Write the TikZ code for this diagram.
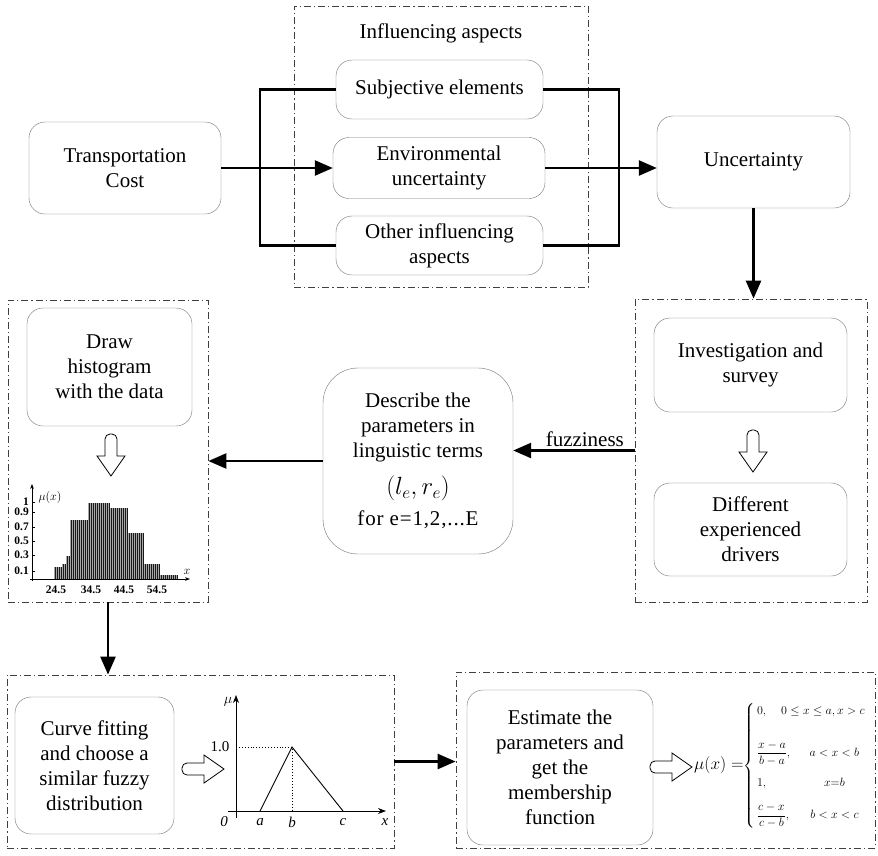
\documentclass[tikz,border=0pt]{standalone}
\usepackage{amsmath,amssymb}
\usepackage{fontspec}
\setmainfont{Liberation Serif}
\usetikzlibrary{positioning,arrows.meta,calc}

\tikzset{
	box/.style={draw=black!55, rounded corners=16pt, align=center, inner sep=2pt},
	group/.style={draw=black!75, line width=0.8pt, dash pattern=on 7pt off 3pt on 1.2pt off 3pt},
	link/.style={line width=2.5pt, -{Triangle[length=18pt,width=15pt]}},
	bus/.style={line width=2.5pt},
	axis/.style={line width=0.8pt, -{Stealth[length=8pt]}},
	hollowarrow/.pic={
		\draw[line width=0.8pt, fill=white] (-6,1) [rounded corners=5pt] -- (-6,-21) -- (6,-21) [sharp corners] -- (6,1) -- (14,1) -- (0,21) -- (-14,1) -- cycle;
	}
}

\begin{document}
\begin{tikzpicture}[x=1pt,y=-1pt, font=\fontsize{21}{25}\selectfont]
			\useasboundingbox (0,0) rectangle (878,855);
			% dash-dotted groups
			\node[group, minimum width=294pt, minimum height=281pt] (aspects) at (441,146.5) {};
			\node[group, minimum width=200pt, minimum height=302pt] (lgroup) at (108,451) {};
			\node[group, minimum width=232pt, minimum height=303pt] (rgroup) at (751,450.5) {};
			\node[group, minimum width=387pt, minimum height=173pt] (blgroup) at (200.5,761.5) {};
			\node[group, minimum width=419pt, minimum height=176pt] (brgroup) at (665.5,760) {};
			\node (aspectstitle) at (441,33) {Influencing aspects};
			
			% top row
			\node[box, minimum width=192pt, minimum height=92pt] (cost) at (125,168) {Transportation\\Cost};
			\node[box, minimum width=207pt, minimum height=59pt] (subj) at (439.5,89.5) {Subjective elements};
			\node[box, minimum width=212pt, minimum height=61pt] (env) at (439,168) {Environmental\\uncertainty};
			\node[box, minimum width=207pt, minimum height=59pt] (other) at (439.5,245.5) {Other influencing\\aspects};
			\node[box, minimum width=193pt, minimum height=92pt] (unc) at (753.5,162) {Uncertainty};
			\coordinate (lbus) at (260,0);
			\coordinate (rbus) at (619,0);
			
			\begin{scope}[bus]
			\draw (subj.west) -- (subj.west -| lbus) -- (other.west -| lbus) -- (other.west);
			\draw (subj.east) -- (subj.east -| rbus) -- (other.east -| rbus) -- (other.east);
			\end{scope}
			\draw[link] (cost.east) -- (env.west);
			\draw[link] (env.east) -- (env.east -| unc.west);
			\draw[link] (unc.south) -- (unc.south |- rgroup.north);
			
			% middle row
			\node[box, minimum width=193pt, minimum height=94pt] (inv) at (750.5,365) {Investigation and\\survey};
			\node[box, minimum width=193pt, minimum height=93pt] (drv) at (750.5,529.5) {Different\\experienced\\drivers};
			\pic at (753,451) {hollowarrow};
			\node[box, rounded corners=35pt, minimum width=190pt, minimum height=186pt] (desc) at (418,461)
				{Describe the\\parameters in\\linguistic terms\\[12pt] {\fontsize{25}{25}\selectfont$(l_e,r_e)$}\\[6pt] {\addfontfeatures{LetterSpace=4}for e=1,2,...E}};
			\draw[link] (rgroup.west) -- node[above, pos=0.41, inner sep=3pt] {fuzziness} (rgroup.west -| desc.east);
			\draw[link] (desc.west) -- (desc.west -| lgroup.east);
			\node[box, minimum width=165pt, minimum height=118pt] (hist) at (109.5,367) {Draw\\histogram\\with the data};
			\pic at (111,455) {hollowarrow};
			
			% histogram
			\foreach \a/\b/\h in {55/61/0.15, 63/65/0.2, 67/69/0.3, 71/87/0.77, 89/109/0.99, 111/127/0.92, 129/143/0.6, 145/159/0.2, 161/177/0.05}{
				\fill[black!35] (\a-1,579) rectangle (\b+1,{579-77*\h});
				\pgfmathtruncatemacro\aa{\a+2}
				\foreach \x in {\a,\aa,...,\b}
				\draw[line width=1pt, black!90] (\x,579) -- (\x,{579-77*\h});
			}
			\draw[axis, -{Stealth[length=5pt]}] (32,581) -- (32,484);
			\draw[axis, -{Stealth[length=5pt]}] (30,579) -- (190,579);
			\begin{scope}[font=\bfseries\fontsize{11.5}{12}\selectfont, inner sep=1pt]
			\foreach \t/\yy in {1/502, 0.9/512, 0.7/527, 0.5/541, 0.3/555, 0.1/571}{
				\draw[line width=0.6pt] (32,\yy) -- (35,\yy);
				\node[anchor=east] at (30,\yy) {\t};
			}
			\foreach \t/\xx in {24.5/56, 34.5/91, 44.5/124, 54.5/157}
			\node at (\xx,590) {\t};
			\node at (50,497) {$\mu(x)$};
			\node at (187,572) {$x$};
			\end{scope}
			\draw[link] (lgroup.south) -- (lgroup.south |- blgroup.north);
			
			% bottom row
			\node[box, minimum width=159pt, minimum height=137pt] (fit) at (94.5,765.5) {Curve fitting\\and choose a\\similar fuzzy\\distribution};
			\pic[rotate=90] at (203,769) {hollowarrow};
			\draw[axis] (236,818) -- (236,695);
			\draw[axis] (228,811) -- (386,811);
			\draw[line width=0.9pt] (260,811) -- (292,747) -- (343,811);
			\draw[dotted, line width=0.9pt] (236,747) -- (292,747) -- (292,811);
			\begin{scope}[font=\fontsize{15}{16}\selectfont\itshape, inner sep=1pt]
			\node at (220,747) {\upshape 1.0};
			\node at (228,702) {$\mu$};
			\node at (224,822) {0};
			\node at (260,822) {a};
			\node at (292,822) {b};
			\node at (343,822) {c};
			\node at (385,822) {x};
			\end{scope}
			\draw[link] (blgroup.east) -- (blgroup.east -| brgroup.west);
			
			\node[box, minimum width=186pt, minimum height=155pt] (est) at (560,767.5) {Estimate the\\parameters and\\get the\\membership\\function};
			\pic[rotate=90] at (671,767) {hollowarrow};
			\node[anchor=west, inner sep=0pt] (mu) at (694,766)
				{{\fontsize{16}{18}\selectfont$\mu(x)=$}{\fontsize{13}{15}\selectfont$\left\{\begin{array}{@{\,}l@{\hspace{14pt}}c@{}}
				\multicolumn{2}{@{\,}l@{}}{0,\quad 0\le x\le a, x>c}\\[22pt]
				\dfrac{x-a}{b-a}, & a<x<b\\[15pt]
				1, & x{=}b\\[13pt]
				\dfrac{c-x}{c-b}, & b<x<c
				\end{array}\right.$}};
\end{tikzpicture}
\end{document}
